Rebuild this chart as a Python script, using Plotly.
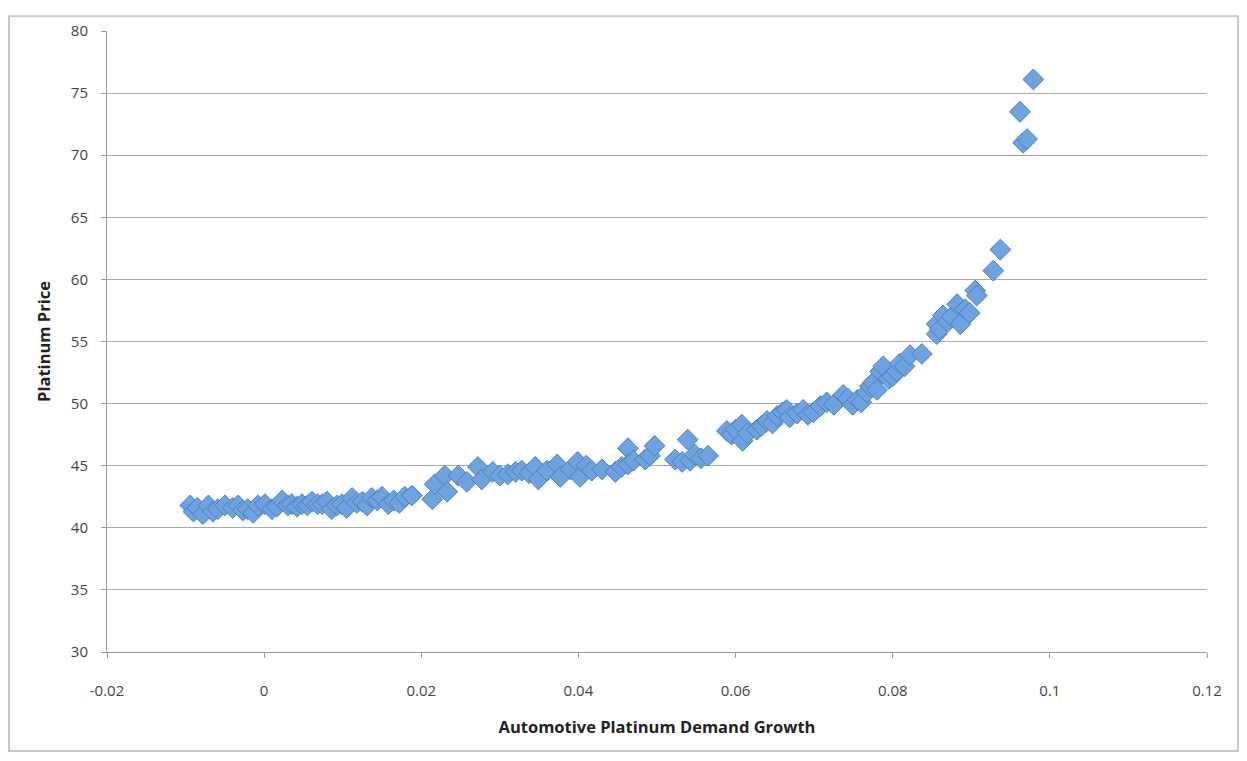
import plotly.graph_objects as go

# Automotive platinum demand growth (x) vs platinum price (y)
demand_growth = [
    -0.0094, -0.0090, -0.0085, -0.0078, -0.0071, -0.0065, -0.0059, -0.0050, -0.0040, -0.0033,
    -0.0027, -0.0021, -0.0014, -0.0008, 0.0001, 0.0010, 0.0016, 0.0023, 0.0030, 0.0035,
    0.0042, 0.0048, 0.0055, 0.0061, 0.0068, 0.0074, 0.0080, 0.0086, 0.0093, 0.0099,
    0.0105, 0.0112, 0.0118, 0.0125, 0.0131, 0.0137, 0.0144, 0.0150, 0.0158, 0.0165,
    0.0172, 0.0179, 0.0188,
    0.0214, 0.0217, 0.0230, 0.0233, 0.0247, 0.0258, 0.0272, 0.0277, 0.0291, 0.0300,
    0.0310, 0.0320, 0.0328, 0.0337, 0.0345, 0.0349, 0.0360, 0.0373, 0.0377, 0.0390,
    0.0399, 0.0402, 0.0410, 0.0417, 0.0430, 0.0447, 0.0455, 0.0463, 0.0463, 0.0470,
    0.0485, 0.0491, 0.0497, 0.0523, 0.0532, 0.0539, 0.0542, 0.0548, 0.0556, 0.0565,
    0.0589, 0.0595, 0.0600, 0.0608, 0.0609, 0.0615, 0.0627, 0.0633, 0.0640, 0.0647,
    0.0653, 0.0660, 0.0665, 0.0669, 0.0678, 0.0686, 0.0692, 0.0699, 0.0708, 0.0716,
    0.0725, 0.0737, 0.0743, 0.0749, 0.0755, 0.0760, 0.0767, 0.0771, 0.0775, 0.0780,
    0.0784, 0.0788, 0.0795, 0.0800, 0.0805, 0.0809, 0.0815, 0.0822, 0.0837,
    0.0856, 0.0856, 0.0860, 0.0864, 0.0870, 0.0875, 0.0882, 0.0886, 0.0892, 0.0898,
    0.0905, 0.0907, 0.0928, 0.0937, 0.0962, 0.0966, 0.0971, 0.0979,
]
platinum_price = [
    41.8, 41.3, 41.6, 41.1, 41.8, 41.3, 41.5, 41.8, 41.6, 41.8,
    41.4, 41.5, 41.2, 41.8, 41.9, 41.5, 41.7, 42.2, 41.8, 41.9,
    41.7, 41.9, 41.8, 42.1, 41.9, 41.9, 42.1, 41.5, 41.8, 41.9,
    41.6, 42.4, 42.0, 42.1, 41.8, 42.4, 42.2, 42.5, 41.9, 42.2,
    42.0, 42.5, 42.6,
    42.3, 43.5, 44.2, 42.9, 44.2, 43.7, 44.9, 43.9, 44.5, 44.2,
    44.3, 44.5, 44.6, 44.4, 44.9, 43.9, 44.6, 45.1, 44.1, 44.7,
    45.3, 44.1, 45.0, 44.6, 44.7, 44.5, 44.9, 46.4, 45.1, 45.4,
    45.5, 45.8, 46.6, 45.5, 45.3, 47.1, 45.4, 45.9, 45.6, 45.8,
    47.8, 47.5, 47.9, 48.3, 47.0, 47.6, 47.9, 48.2, 48.6, 48.4,
    49.0, 49.3, 49.5, 48.9, 49.2, 49.5, 49.1, 49.3, 49.8, 50.1,
    49.9, 50.7, 50.4, 49.9, 50.3, 50.1, 50.9, 51.4, 51.7, 51.1,
    52.6, 53.0, 52.0, 52.2, 52.6, 53.2, 53.0, 53.9, 54.0,
    55.6, 56.4, 56.0, 57.1, 56.6, 57.0, 58.0, 56.4, 57.6, 57.3,
    59.1, 58.7, 60.7, 62.4, 73.5, 71.0, 71.3, 76.1,
]

x_ticks = [-0.02, 0, 0.02, 0.04, 0.06, 0.08, 0.1, 0.12]
x_tick_labels = ["-0.02", "0", "0.02", "0.04", "0.06", "0.08", "0.1", "0.12"]
y_ticks = [30, 35, 40, 45, 50, 55, 60, 65, 70, 75, 80]

fig = go.Figure()
fig.add_trace(go.Scatter(
    x=demand_growth, y=platinum_price, mode="markers",
    marker=dict(symbol="diamond", size=16, color="#6EA3E0",
                line=dict(color="#4A80C2", width=1)),
    showlegend=False,
))

font_family = "Open Sans, Liberation Sans, sans-serif"
axis_font = dict(family=font_family, size=15, color="#444444")
title_font = dict(family=font_family, size=16.5, color="#222222")
fig.update_layout(
    width=1231, height=745,
    margin=dict(l=99, r=32, t=16, b=101),
    paper_bgcolor="white", plot_bgcolor="white",
    font=axis_font,
    xaxis=dict(
        range=[-0.02, 0.12], tickvals=x_ticks, ticktext=x_tick_labels,
        showgrid=False, zeroline=False, showline=True, linecolor="#9a9a9a", linewidth=1,
        ticks="outside", ticklen=5, tickcolor="#9a9a9a", tickfont=axis_font,
        ticklabelstandoff=20,
        title=dict(text="<b>Automotive Platinum Demand Growth</b>", font=title_font, standoff=22),
    ),
    yaxis=dict(
        range=[30, 80], tickvals=y_ticks,
        showgrid=True, gridcolor="#a8a8a8", gridwidth=1, zeroline=False,
        showline=True, linecolor="#9a9a9a", linewidth=1,
        ticks="outside", ticklen=5, tickcolor="#9a9a9a", tickfont=axis_font,
        ticklabelstandoff=10,
        title=dict(text="<b>Platinum Price</b>", font=title_font, standoff=16),
    ),
)
fig.add_shape(type="rect", xref="paper", yref="paper",
              x0=-98/1100, x1=1+31/1100, y0=-100/628, y1=1+15/628,
              line=dict(color="#c8c8c8", width=2), layer="below")
fig.write_html("out.html")
